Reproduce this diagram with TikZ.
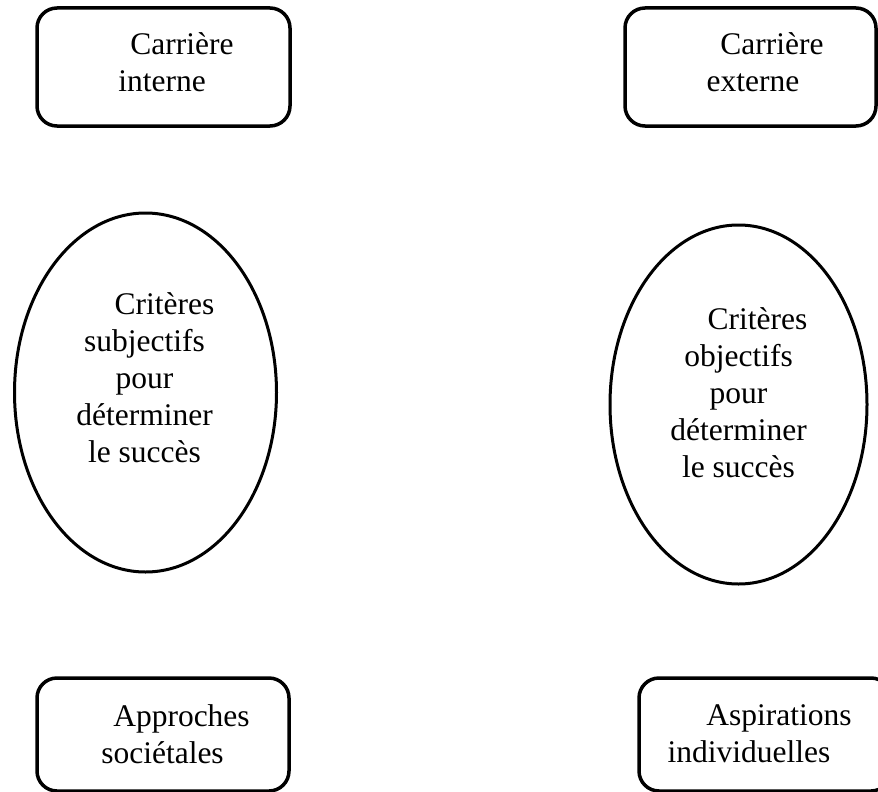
\documentclass[tikz,border=0pt]{standalone}
\usepackage{fontspec}
\setmainfont{Liberation Serif}
\usetikzlibrary{shapes.geometric}
\tikzset{
  rbox/.style={draw, line width=3.5pt, rounded corners=20pt, inner sep=0pt},
  oval/.style={draw, ellipse, line width=3pt, inner sep=0pt},
  lbl/.style={align=center, inner sep=0pt, anchor=base, font=\fontsize{31.5pt}{37pt}\selectfont}
}
\begin{document}
\begin{tikzpicture}[x=1pt, y=-1pt]
\useasboundingbox (0,0) rectangle (878,792);
\clip (0,0) rectangle (878,792);
% boxes
\node[rbox, minimum width=253pt, minimum height=118pt] (ci) at (163.5,67) {};
\node[rbox, minimum width=251pt, minimum height=118pt] (ce) at (750.5,67) {};
\node[rbox, minimum width=252pt, minimum height=113pt] (as) at (163,734.5) {};
\node[rbox, minimum width=252pt, minimum height=113pt] (ai) at (765,734.5) {};
% ellipses
\node[oval, minimum width=262pt, minimum height=359pt] (es) at (145.5,392.5) {};
\node[oval, minimum width=257pt, minimum height=359pt] (eo) at (738.5,404.5) {};
% texts (anchor base = baseline of the last line)
\node[lbl] (tci) at (162,92) {\hspace*{40pt}Carrière\\interne};
\node[lbl] (tce) at (753,92) {\hspace*{38pt}Carrière\\externe};
\node[lbl] (tas) at (162.5,763) {\hspace*{38pt}Approches\\sociétales};
\node[lbl] (tai) at (749,762) {\hspace*{60pt}Aspirations\\individuelles};
\node[lbl] (tes) at (144.5,462) {\hspace*{40pt}Critères\\subjectifs\\pour\\déterminer\\le succès};
\node[lbl] (teo) at (738.5,477) {\hspace*{38pt}Critères\\objectifs\\pour\\déterminer\\le succès};
\end{tikzpicture}
\end{document}
